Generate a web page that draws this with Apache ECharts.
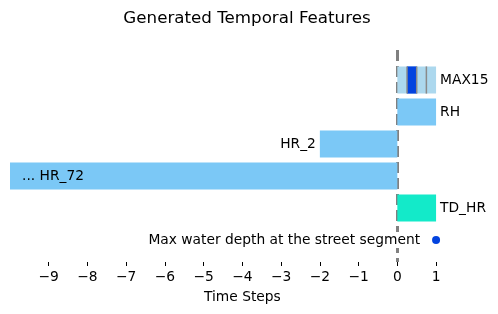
<!DOCTYPE html>
<html>
<head>
<meta charset="utf-8">
<script src="https://cdn.jsdelivr.net/npm/echarts@6/dist/echarts.min.js"></script>
<style>html,body{margin:0;padding:0;background:#fff}#c{width:498px;height:314px}</style>
</head>
<body>
<div id="c"></div>
<script>
const categories = ['MAX15', 'RH', 'HR_2', '... HR_72', 'TD_HR', 'Max water depth at the street segment'];
const barStart = [0, 0, -2, -10, 0];
const barEnd = [1, 1, 0, 0, 1];
const max15Cells = [0, 1, 0, 0]; // per quarter step, 1 = highlighted
const pointX = [1];
const pointRow = [5];
const xTicks = [-9, -8, -7, -6, -5, -4, -3, -2, -1, 0, 1];
const labelSide = ['right', 'right', 'left', 'inside', 'right'];
const barColors = ['#acd8ee', '#7bc8f6', '#7bc8f6', '#7bc8f6', '#13eac9'];
const highlightColor = '#0343df';

const FONT = 'DejaVu Sans';
const FS = 13.8;

const chart = echarts.init(document.getElementById('c'), null, {renderer: 'canvas'});

const barData = barStart.map((s, i) => [s, barEnd[i], i]);

function renderBar(params, api) {
  const i = api.value(2);
  const p0 = api.coord([api.value(0), i]);
  const p1 = api.coord([api.value(1), i]);
  const h = api.size([0, 0.85])[1];
  const children = [];
  const x0 = Math.min(p0[0], p1[0]);
  const w = Math.abs(p1[0] - p0[0]);
  children.push({type: 'rect', shape: {x: x0, y: p0[1] - h / 2, width: w, height: h}, style: {fill: barColors[i]}});
  if (i === 0) {
    const n = max15Cells.length;
    const cw = (api.value(1) - api.value(0)) / n;
    max15Cells.forEach((v, k) => {
      const a = api.coord([api.value(0) + k * cw, i]);
      const b = api.coord([api.value(0) + (k + 1) * cw, i]);
      if (v) children.push({type: 'rect', shape: {x: a[0], y: a[1] - h / 2, width: b[0] - a[0], height: h}, style: {fill: highlightColor}});
    });
    for (let k = 1; k < n; k++) {
      const a = api.coord([api.value(0) + k * cw, i]);
      children.push({type: 'line', shape: {x1: a[0], y1: a[1] - h / 2, x2: a[0], y2: a[1] + h / 2}, style: {stroke: '#8a8a8a', lineWidth: 1.5}});
    }
  }
  const side = labelSide[i];
  let tx, align;
  if (side === 'right') { tx = Math.max(p0[0], p1[0]) + 4; align = 'left'; }
  else if (side === 'left') { tx = x0 - 4; align = 'right'; }
  else { tx = x0 + 12; align = 'left'; }
  children.push({type: 'text', style: {text: categories[i], x: tx, y: p0[1], textAlign: align, textVerticalAlign: 'middle', fontSize: FS, fontFamily: FONT, fill: '#000'}});
  return {type: 'group', children};
}

chart.setOption({
  animation: false,
  title: {
    text: 'Generated Temporal Features',
    left: 242, top: 5, textAlign: 'center',
    textStyle: {fontFamily: FONT, fontSize: 16.7, fontWeight: 'normal', color: '#000'}
  },
  grid: {left: 10, right: 23.2, top: 50, bottom: 52, containLabel: false},
  xAxis: {
    type: 'value', min: -10, max: 2,
    axisLine: {show: false, onZero: false},
    splitLine: {show: false},
    axisTick: {show: true, length: 4, lineStyle: {color: '#000', width: 1}, customValues: xTicks},
    axisLabel: {
      customValues: xTicks, margin: 8,
      fontFamily: FONT, fontSize: FS, color: '#000',
      formatter: v => String(v).replace('-', '\u2212')
    },
    name: 'Time Steps', nameLocation: 'middle', nameGap: 28,
    nameTextStyle: {fontFamily: FONT, fontSize: FS, color: '#000'}
  },
  yAxis: {
    type: 'value', inverse: true, min: -0.9375, max: 5.6875, show: false
  },
  series: [
    {
      type: 'custom', renderItem: renderBar, data: barData,
      encode: {x: [0, 1], y: 2}, z: 2
    },
    {
      type: 'scatter', symbol: 'circle', symbolSize: 8,
      data: pointX.map((x, k) => [x, pointRow[k]]),
      itemStyle: {color: highlightColor, opacity: 1},
      label: {show: true, position: 'left', distance: 10, formatter: () => categories[5], fontFamily: FONT, fontSize: FS, color: '#000', backgroundColor: '#fff', padding: [1, 2]},
      z: 4,
      markLine: {
        silent: true, symbol: 'none', label: {show: false},
        lineStyle: {color: '#808080', width: 3, type: [11, 5], opacity: 1},
        data: [{xAxis: 0}], z: 1
      }
    }
  ]
});
</script>
</body>
</html>
